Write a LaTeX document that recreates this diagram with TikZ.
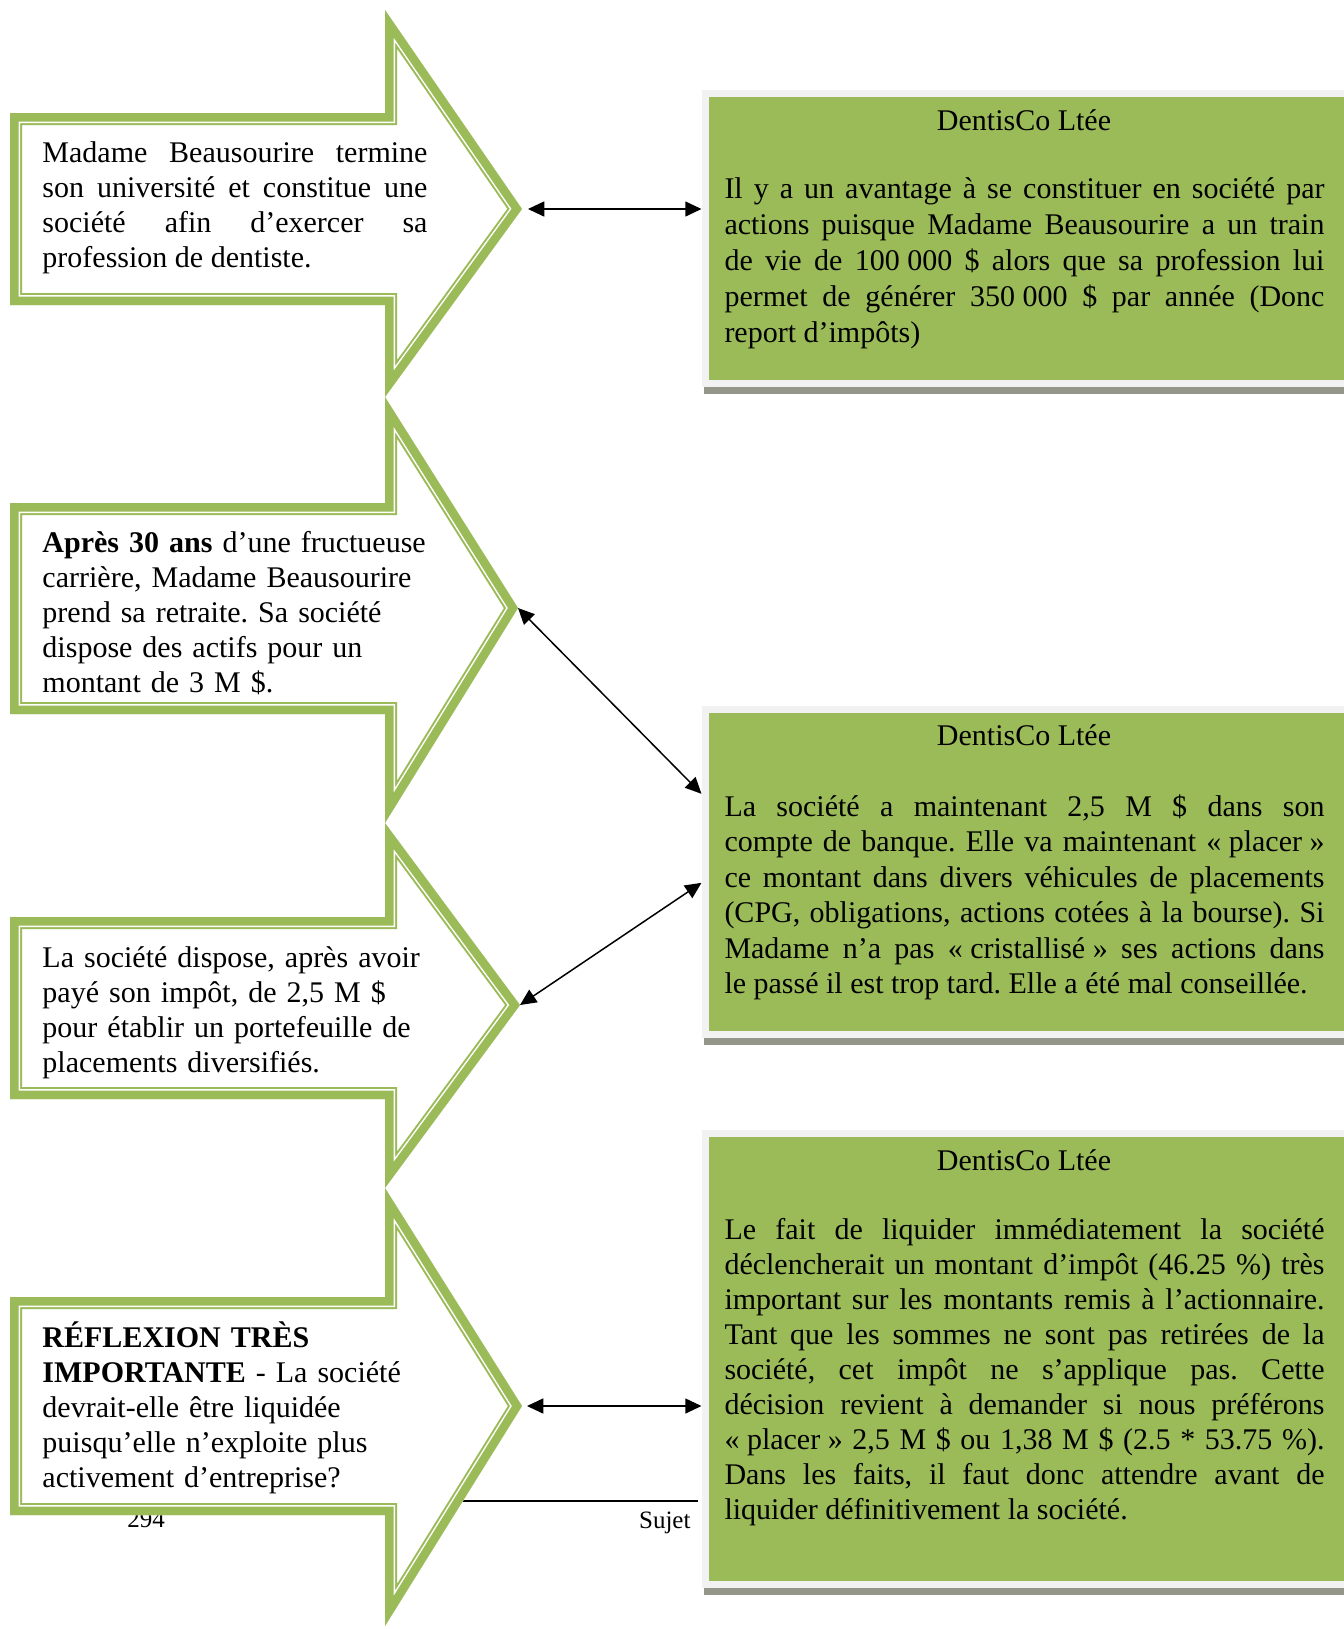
\documentclass[tikz,border=0pt]{standalone}
\usepackage{fontspec}
\setmainfont{Liberation Serif}
\usetikzlibrary{arrows.meta,calc,shadows}
\definecolor{leafgreen}{HTML}{9BBB59}
\definecolor{framegray}{HTML}{F2F2F2}
\definecolor{shadegray}{RGB}{148,150,138}
\hyphenpenalty=10000
\exhyphenpenalty=10000
\tolerance=9999
\emergencystretch=2em
\frenchspacing

\begin{document}
\begin{tikzpicture}[
  x=0.4pt, y=-0.4pt,
  txt/.style={inner sep=0pt,font=\fontsize{12pt}{14pt}\selectfont},
  steptext/.style={txt,anchor=base west,text width=154pt,align=left},
  bodytext/.style={txt,anchor=base west,text width=240pt,align=justify},
  titletext/.style={txt,anchor=base},
  greenbox/.style={draw=framegray,line width=2.8pt,fill=leafgreen,anchor=north west,
                   inner sep=0pt,minimum width=258.4pt,
                   drop shadow={shadow xshift=-0.6pt,shadow yshift=-4.2pt,fill=shadegray,opacity=1}},
  rim/.style={draw=leafgreen,line join=miter},
  link/.style={{Triangle[length=6.5pt,width=6pt]}-{Triangle[length=6.5pt,width=6pt]},line width=0.6pt}
]
\useasboundingbox (0,0) rectangle (1344,1629);

% page footer, partly under the last arrow
\draw[line width=0.5pt] (100,1501) -- (698,1501);
\node[txt,font=\fontsize{10pt}{12pt}\selectfont,anchor=base] (pagenum) at (146,1527) {294};
\node[txt,font=\fontsize{10pt}{12pt}\selectfont,anchor=base east] (sujet) at (691,1528) {Sujet};

% the four step arrows
\foreach \rtop/\rbot/\htop/\hbot/\tipx/\tipy [count=\i] in
  {113/305/10/397/522/209, 503/714/397/823/518/608,
   917/1099/823/1188/520/1005, 1297/1515/1188/1626/522/1406}{
  \def\outline{(10,\rtop) -- (385,\rtop) -- (385,\htop) -- (\tipx,\tipy)
    -- (385,\hbot) -- (385,\rbot) -- (10,\rbot) -- cycle}
  \begin{scope}
    \clip \outline;
    \fill[white] \outline;
    \draw[rim,line width=9.6pt] \outline;
    \draw[white,line width=8pt,line join=miter] \outline;
    \draw[rim,line width=6.8pt] \outline;
  \end{scope}
  \coordinate (tip\i) at (\tipx,\tipy);
}

\node[steptext,align=justify] (step1) at (42,162)
  {Madame Beausourire termine\linebreak son université et constitue une\linebreak
   société afin d’exercer sa\linebreak profession de dentiste.};
\node[steptext] (step2) at (42,552)
  {\textbf{Après 30 ans} d’une fructueuse\\carrière, Madame Beausourire\\
   prend sa retraite. Sa société\\dispose des actifs pour un\\montant de 3 M \$.};
\node[steptext] (step3) at (42,967)
  {La société dispose, après avoir\\payé son impôt, de 2,5 M \$\\
   pour établir un portefeuille de\\placements diversifiés.};
\node[steptext] (step4) at (42,1347)
  {\textbf{RÉFLEXION TRÈS}\\\textbf{IMPORTANTE} - La société\\devrait-elle être liquidée\\
   puisqu’elle n’exploite plus\\activement d’entreprise?};

% DentisCo boxes
\node[greenbox,minimum height=116pt] (box1) at (701.5,89.5) {};
\node[greenbox,minimum height=130pt] (box2) at (701.5,705.5) {};
\node[greenbox,minimum height=180.4pt] (box3) at (701.5,1129.5) {};

\node[titletext] (title1) at (1024,130) {DentisCo Ltée};
\node[bodytext,font=\fontsize{12pt}{14.4pt}\selectfont] (body1) at (724,198)
  {Il y a un avantage à se constituer en société par\linebreak
   actions puisque Madame Beausourire a un train\linebreak
   de vie de \mbox{100 000} \$ alors que sa profession lui\linebreak
   permet de générer \mbox{350 000} \$ par année (Donc\linebreak
   report d’impôts)};

\node[titletext] (title2) at (1024,745) {DentisCo Ltée};
\node[bodytext,font=\fontsize{12pt}{14.2pt}\selectfont] (body2) at (724,816)
  {La société a maintenant 2,5 M \$ dans son\linebreak
   compte de banque. Elle va maintenant \mbox{« placer »}\linebreak
   ce montant dans divers véhicules de placements\linebreak
   (CPG, obligations, actions cotées à la bourse). Si\linebreak
   Madame n’a pas \mbox{« cristallisé »} ses actions dans\linebreak
   le passé il est trop tard. Elle a été mal conseillée.};

\node[titletext] (title3) at (1024,1170) {DentisCo Ltée};
\node[bodytext] (body3) at (724,1239)
  {Le fait de liquider immédiatement la société\linebreak
   déclencherait un montant d’impôt (46.25 \%) très\linebreak
   important sur les montants remis à l’actionnaire.\linebreak
   Tant que les sommes ne sont pas retirées de la\linebreak
   société, cet impôt ne s’applique pas. Cette\linebreak
   décision revient à demander si nous préférons\linebreak
   \mbox{« placer »} 2,5 M \$ ou 1,38 M \$ (2.5 * 53.75 \%).\linebreak
   Dans les faits, il faut donc attendre avant de\linebreak
   liquider définitivement la société.};

% connectors
\draw[link] ([xshift=2.4pt]tip1) -- (tip1 -| box1.west);
\draw[link] (tip2) -- ($(box2.north west)!0.266!(box2.south west)$);
\draw[link] (tip3) -- ($(box2.north west)!0.534!(box2.south west)$);
\draw[link] ([xshift=2pt]tip4) -- (tip4 -| box3.west);
\end{tikzpicture}
\end{document}
